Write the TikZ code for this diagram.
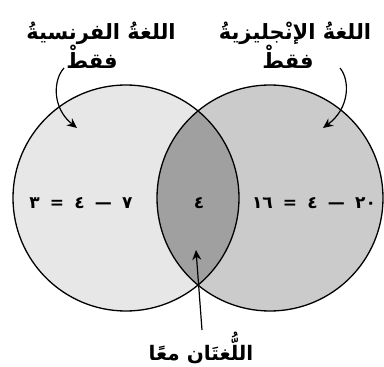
\documentclass[tikz,border=0pt]{standalone}
\usepackage{fontspec}
\newfontfamily\arabicfont[Script=Arabic]{DejaVu Sans}
\TeXXeTstate=1
\usetikzlibrary{arrows.meta}
\definecolor{leftfill}{HTML}{E8E7E7}
\definecolor{rightfill}{HTML}{CBCBCB}
\definecolor{lensfill}{HTML}{A0A0A0}
\newcommand{\gapsp}{\hspace{0.6em}}
\tikzset{
  setcircle/.style={circle, minimum size=226pt, inner sep=0pt, draw=black, line width=1.3pt},
  label/.style={font=\arabicfont\bfseries\fontsize{21}{24}\selectfont, inner sep=0pt},
  numtext/.style={font=\arabicfont\bfseries\fontsize{17}{20}\selectfont, inner sep=0pt},
  pointer/.style={line width=1.2pt, -{Stealth[length=10pt,width=9pt]}},
}
\begin{document}
\begin{tikzpicture}[x=1pt,y=-1pt]
\useasboundingbox (0,0) rectangle (384,367);
\fill[white] (0,0) rectangle (384,367);
% fills
\fill[leftfill] (126,198) circle (113);
\fill[rightfill] (270,198) circle (113);
\begin{scope}
  \clip (126,198) circle (113);
  \fill[lensfill] (270,198) circle (113);
\end{scope}
% outlines
\node[setcircle] (L) at (126,198) {};
\node[setcircle] (R) at (270,198) {};
% titles
\node[label] (lt) at (101,33) {\beginR اللغةُ الفرنسيةُ\endR};
\node[label] (lf) at (92,57) {\beginR فقطْ\endR};
\node[label] (rt) at (295,33) {\beginR اللغةُ الإنْجليزيةُ\endR};
\node[label] (rf) at (288,57) {\beginR فقطْ\endR};
\node[label, font=\arabicfont\bfseries\fontsize{20}{22}\selectfont] (bt) at (201,348) {\beginR اللُّغتَان معًا\endR};
% numbers
\node[numtext] (ln) at (81,203) {\beginR ٧\gapsp—\gapsp٤\gapsp=\gapsp٣\endR};
\node[numtext] (mn) at (199,203) {٤};
\node[numtext] (rn) at (314,203) {\beginR ٢٠\gapsp—\gapsp٤\gapsp=\gapsp١٦\endR};
% arrow anchors
\coordinate (la) at (64,68);
\coordinate (lt2) at (77,128);
\coordinate (ra) at (340,68);
\coordinate (rt2) at (323,128);
\coordinate (ba) at (202,330);
\coordinate (bt2) at (196,250);
\draw[pointer] (la) .. controls (53,80) and (52,108) .. (lt2);
\draw[pointer] (ra) .. controls (350,80) and (350,108) .. (rt2);
\draw[pointer] (ba) -- (bt2);
\end{tikzpicture}
\end{document}
